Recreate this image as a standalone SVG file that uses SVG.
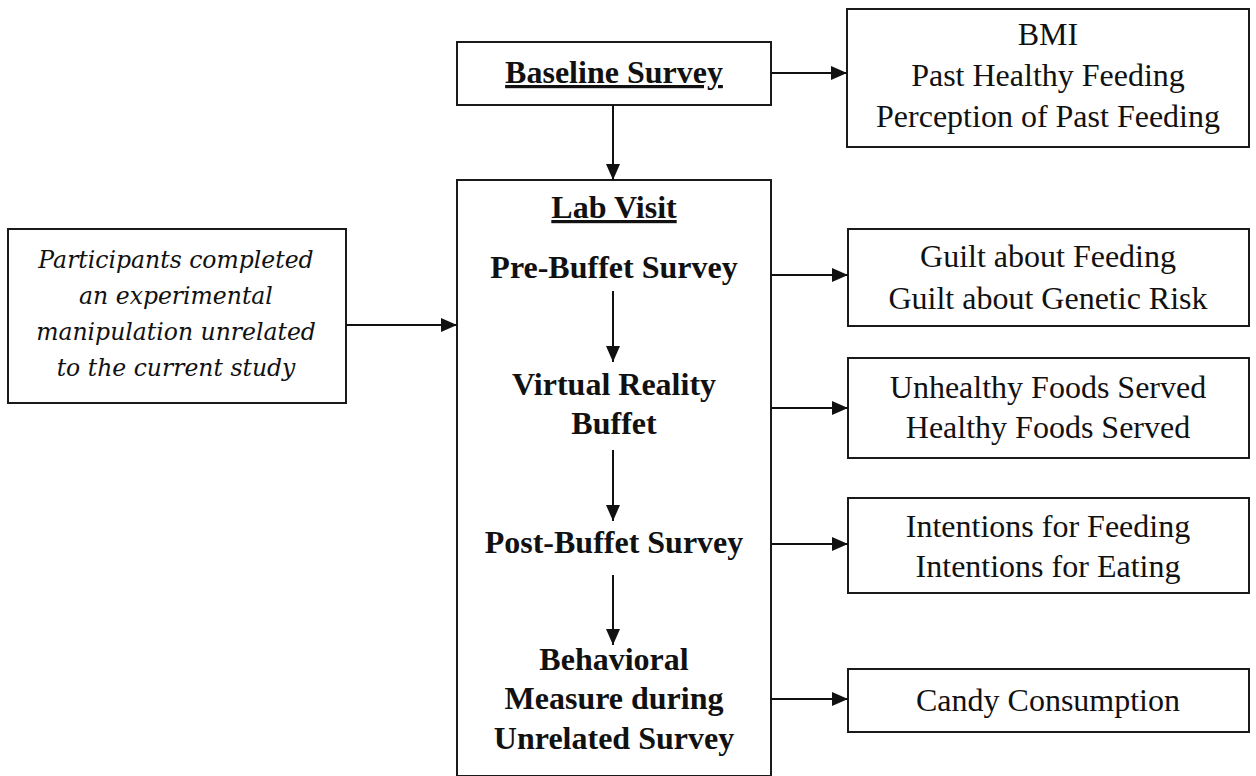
<svg xmlns="http://www.w3.org/2000/svg" width="1256" height="776" viewBox="0 0 1256 776">
<defs>
<style>
.box{fill:#fff;stroke:#1a1a1a;stroke-width:2}
.b{font-family:"Liberation Serif",serif;font-weight:bold;font-size:32px;fill:#111;text-anchor:middle}
.r{font-family:"Liberation Serif",serif;font-size:32px;fill:#111;text-anchor:middle}
.i{font-family:"DejaVu Serif",serif;font-style:italic;font-size:23.5px;fill:#111;text-anchor:middle}
.u{text-decoration:underline}
.c{stroke:#111;stroke-width:2;fill:none;marker-end:url(#ah)}
</style>
<marker id="ah" viewBox="0 0 16 14" refX="16" refY="7" markerWidth="16" markerHeight="14" markerUnits="userSpaceOnUse" orient="auto">
<path d="M0,0 L16,7 L0,14 Z" fill="#111"/>
</marker>
</defs>
<rect width="1256" height="776" fill="#fff"/>
<g id="baseline">
<rect class="box" x="457" y="42" width="314" height="63"/>
<text class="b u" x="614" y="83">Baseline Survey</text>
</g>
<g id="baseline-out">
<rect class="box" x="847" y="9" width="402" height="138"/>
<text class="r" x="1048" y="45">BMI</text>
<text class="r" x="1048" y="86">Past Healthy Feeding</text>
<text class="r" x="1048" y="127">Perception of Past Feeding</text>
</g>
<g id="manipulation">
<rect class="box" x="8" y="229" width="338" height="174"/>
<text class="i" x="176" y="268">Participants completed</text>
<text class="i" x="176" y="304">an experimental</text>
<text class="i" x="176" y="340">manipulation unrelated</text>
<text class="i" x="176" y="376">to the current study</text>
</g>
<g id="labvisit">
<rect class="box" x="457" y="180" width="314" height="596"/>
<text class="b u" x="614" y="218">Lab Visit</text>
<text class="b" x="614" y="278">Pre-Buffet Survey</text>
<text class="b" x="614" y="395">Virtual Reality</text>
<text class="b" x="614" y="434">Buffet</text>
<text class="b" x="614" y="553">Post-Buffet Survey</text>
<text class="b" x="614" y="670">Behavioral</text>
<text class="b" x="614" y="709">Measure during</text>
<text class="b" x="614" y="749">Unrelated Survey</text>
</g>
<g id="guilt">
<rect class="box" x="848" y="229" width="401" height="97"/>
<text class="r" x="1048" y="267">Guilt about Feeding</text>
<text class="r" x="1048" y="309">Guilt about Genetic Risk</text>
</g>
<g id="foods">
<rect class="box" x="848" y="358" width="401" height="100"/>
<text class="r" x="1048" y="398">Unhealthy Foods Served</text>
<text class="r" x="1048" y="438">Healthy Foods Served</text>
</g>
<g id="intentions">
<rect class="box" x="848" y="498" width="401" height="95"/>
<text class="r" x="1048" y="537">Intentions for Feeding</text>
<text class="r" x="1048" y="577">Intentions for Eating</text>
</g>
<g id="candy">
<rect class="box" x="848" y="669" width="401" height="63"/>
<text class="r" x="1048" y="711">Candy Consumption</text>
</g>
<g id="connectors">
<line class="c" x1="771" y1="73" x2="847" y2="73"/>
<line class="c" x1="613" y1="105" x2="613" y2="180"/>
<line class="c" x1="346" y1="325" x2="457" y2="325"/>
<line class="c" x1="613" y1="291" x2="613" y2="362"/>
<line class="c" x1="613" y1="450" x2="613" y2="521"/>
<line class="c" x1="613" y1="575" x2="613" y2="645"/>
<line class="c" x1="771" y1="275" x2="848" y2="275"/>
<line class="c" x1="771" y1="408" x2="848" y2="408"/>
<line class="c" x1="771" y1="544" x2="848" y2="544"/>
<line class="c" x1="771" y1="699" x2="848" y2="699"/>
</g>
</svg>
